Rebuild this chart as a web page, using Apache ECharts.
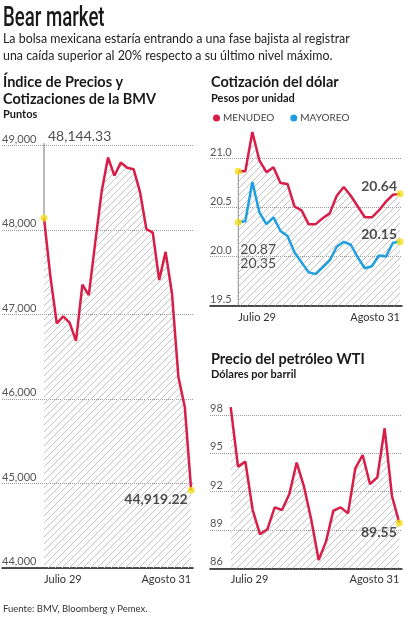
<!DOCTYPE html>
<html><head><meta charset="utf-8">
<script src="https://cdn.jsdelivr.net/npm/echarts@6/dist/echarts.min.js"></script>
<style>html,body{margin:0;padding:0;background:#fff}#c{width:405px;height:620px}</style>
</head><body><div id="c"></div>
<script>
// ---------- data ----------
const dates = ['Julio 29','Agosto 1','Agosto 2','Agosto 3','Agosto 4','Agosto 5','Agosto 8','Agosto 9','Agosto 10','Agosto 11','Agosto 12','Agosto 15','Agosto 16','Agosto 17','Agosto 18','Agosto 19','Agosto 22','Agosto 23','Agosto 24','Agosto 25','Agosto 26','Agosto 29','Agosto 30','Agosto 31'];
const bmv = [48144.33, 47450, 46897, 46980, 46905, 46690, 47356, 47230, 47850, 48454, 48860, 48645, 48800, 48740, 48722, 48454, 48012, 47970, 47410, 47743, 47250, 46262, 45907, 44919.22];
const menudeo = [20.87, 20.87, 21.27, 20.98, 20.86, 20.91, 20.75, 20.74, 20.51, 20.47, 20.33, 20.33, 20.39, 20.44, 20.62, 20.71, 20.62, 20.51, 20.40, 20.40, 20.47, 20.56, 20.63, 20.64];
const mayoreo = [20.35, 20.36, 20.76, 20.45, 20.33, 20.40, 20.26, 20.21, 20.04, 19.94, 19.84, 19.82, 19.89, 19.96, 20.10, 20.15, 20.12, 19.99, 19.88, 19.90, 20.01, 20.00, 20.14, 20.15];
const wti = [98.62, 93.96, 94.35, 90.56, 88.66, 89.05, 90.77, 90.56, 91.82, 94.27, 92.39, 89.78, 86.65, 88.09, 90.51, 90.77, 90.30, 93.83, 94.87, 92.60, 93.12, 96.96, 91.66, 89.55];
const bmvAxis = [44000, 49000, 1000];
const usdAxis = [19.5, 21.0, 0.5];
const wtiAxis = [86, 98, 3];

// ---------- style ----------
const RED = '#d81e48', BLUE = '#1f9fe0', YEL = '#f2de16';
const FF = 'Lato, "Open Sans", sans-serif';
const N = dates.length;

function hatch(){
  const s = 7, c = document.createElement('canvas');
  c.width = s; c.height = s;
  const g = c.getContext('2d');
  g.strokeStyle = '#c2c2c2'; g.lineWidth = 1;
  g.beginPath();
  g.moveTo(-1, s + 1); g.lineTo(s + 1, -1);
  g.moveTo(-1, 1); g.lineTo(1, -1);
  g.moveTo(s - 1, s + 1); g.lineTo(s + 1, s - 1);
  g.stroke();
  return c;
}
const pattern = { image: hatch(), repeat: 'repeat' };

const grid = [], xAxis = [], yAxis = [], series = [];
function panel(box, plotL, plotR, ax, fmt){
  const gi = grid.length;
  const h = box.b - box.t;
  grid.push({left: box.l, top: box.t, width: box.r - box.l, height: h, containLabel:false, outerBoundsMode:'none'});
  grid.push({left: plotL, top: box.t, width: plotR - plotL, height: h, containLabel:false, outerBoundsMode:'none'});
  xAxis.push({gridIndex: gi, type:'value', min:0, max:1,
    axisLine:{show:true, onZero:false, lineStyle:{color:'#1a1a1a', width:1.5}},
    axisTick:{show:false}, axisLabel:{show:false}, splitLine:{show:false}});
  yAxis.push({gridIndex: gi, type:'value', min: ax[0], max: ax[1], interval: ax[2],
    axisLine:{show:false}, axisTick:{show:false},
    axisLabel:{inside:true, margin:0, verticalAlign:'bottom', padding:[0,0,1,0], color:'#555', fontSize:11, fontFamily:FF, formatter: fmt},
    splitLine:{lineStyle:{type:'dotted', color:'#9a9a9a', width:1}}});
  xAxis.push({gridIndex: gi + 1, type:'category', data: dates, boundaryGap:false,
    axisLine:{show:false}, axisTick:{show:false}, splitLine:{show:false},
    axisLabel:{interval: (i) => i === 0 || i === N - 1, alignMinLabel:'left', alignMaxLabel:'right',
      margin:6, color:'#333', fontSize:11, fontFamily:FF, hideOverlap:false}});
  yAxis.push({gridIndex: gi + 1, type:'value', min: ax[0], max: ax[1], show:false});
  return gi + 1;
}
function dots(gi, pts){
  series.push({type:'scatter', xAxisIndex: gi, yAxisIndex: gi, z: 10, symbolSize: 7,
    itemStyle:{color: YEL}, silent:true, data: pts});
}
function leader(gi, y0, y1, color){
  series.push({type:'line', xAxisIndex: gi, yAxisIndex: gi, z: 3, symbol:'none', silent:true, clip:false,
    lineStyle:{color: color, width: 1}, data: [[0, y0], [0, y1]]});
}
function lbl(text, offset, align, bold){
  return {show:true, position:'inside', formatter: text, align: align, verticalAlign:'middle', offset: offset,
    color:'#222', fontSize:14, fontWeight: bold ? 'bold' : 'normal', fontFamily: FF};
}
const fmtN = (v, d) => v.toLocaleString('en-US', {minimumFractionDigits: d, maximumFractionDigits: d});

// BMV panel
let g = panel({l:2, r:193, t:145.7, b:568}, 44, 191.2, bmvAxis, v => fmtN(v, 0));
series.push({type:'line', name:'BMV', xAxisIndex:g, yAxisIndex:g, data: bmv, symbol:'none', clip:false, z: 4,
  lineStyle:{color: RED, width: 2.5}, areaStyle:{color: pattern, opacity: 1, origin:'start'}});
leader(g, bmvAxis[1] + 30, bmv[0], '#777');
dots(g, [
  {value:[0, bmv[0]], label: lbl(fmtN(bmv[0], 2), [4, -81], 'left', false)},
  {value:[N - 1, bmv[N - 1]], label: lbl(fmtN(bmv[N - 1], 2), [-3.5, 9], 'right', true)}
]);

// USD panel
g = panel({l:210, r:402, t:158.5, b:305.5}, 238.3, 400, usdAxis, v => v.toFixed(1));
series.push({type:'line', name:'MENUDEO', xAxisIndex:g, yAxisIndex:g, data: menudeo, symbol:'none', clip:false, z: 4,
  itemStyle:{color: RED}, lineStyle:{color: RED, width: 2.5}, areaStyle:{color: pattern, opacity: 1, origin:'start'}});
series.push({type:'line', name:'MAYOREO', xAxisIndex:g, yAxisIndex:g, data: mayoreo, symbol:'none', clip:false, z: 5,
  itemStyle:{color: BLUE}, lineStyle:{color: BLUE, width: 2.5}});
leader(g, menudeo[0], usdAxis[0], '#888');
dots(g, [
  {value:[0, menudeo[0]], label: lbl(menudeo[0].toFixed(2), [2, 78.6], 'left', false)},
  {value:[0, mayoreo[0]], label: lbl(mayoreo[0].toFixed(2), [2, 41], 'left', false)},
  {value:[N - 1, menudeo[N - 1]], label: lbl(menudeo[N - 1].toFixed(2), [-3, -7.5], 'right', true)},
  {value:[N - 1, mayoreo[N - 1]], label: lbl(mayoreo[N - 1].toFixed(2), [-3, -7.5], 'right', true)}
]);

// WTI panel
g = panel({l:210, r:402, t:415, b:568.3}, 230.7, 399.3, wtiAxis, v => String(v));
series.push({type:'line', name:'WTI', xAxisIndex:g, yAxisIndex:g, data: wti, symbol:'none', clip:false, z: 4,
  lineStyle:{color: RED, width: 2.5}, areaStyle:{color: pattern, opacity: 1, origin:'start'}});
dots(g, [
  {value:[0, wti[0]], label: lbl(wti[0].toFixed(2), [2.5, -7], 'left', false)},
  {value:[N - 1, wti[N - 1]], label: lbl(wti[N - 1].toFixed(2), [-2.5, 10], 'right', true)}
]);

function T(text, x, y, font, fill, extra){
  return Object.assign({type:'text', x: x, y: y, silent:true,
    style:{text: text, font: font, fill: fill || '#1a1a1a', textVerticalAlign:'middle', textAlign:'left'}}, extra || {});
}
const graphic = [
  T('Bear market', 3, 19, '500 27px Roboto, sans-serif', '#1a1a1a', {scaleX: 0.69}),
  T('La bolsa mexicana estaría entrando a una fase bajista al registrar', 3, 39, '12.4px ' + FF, '#222'),
  T('una caída superior al 20% respecto a su último nivel máximo.', 3, 56, '12.4px ' + FF, '#222'),
  T('Índice de Precios y', 3, 82, 'bold 14.5px ' + FF),
  T('Cotizaciones de la BMV', 3, 99, 'bold 14.5px ' + FF),
  T('Puntos', 3, 114, 'bold 11px ' + FF),
  T('Cotización del dólar', 211, 82, 'bold 14.5px ' + FF),
  T('Pesos por unidad', 211, 98.5, 'bold 11px ' + FF),
  T('Precio del petróleo WTI', 211, 359, 'bold 14.5px ' + FF),
  T('Dólares por barril', 211, 374.5, 'bold 11px ' + FF),
  T('Fuente: BMV, Bloomberg y Pemex.', 3, 609, '9.5px ' + FF, '#333')
];

const chart = echarts.init(document.getElementById('c'), null, {renderer:'canvas'});
chart.setOption({
  backgroundColor:'#fff', animation:false,
  legend:{data:['MENUDEO','MAYOREO'], left:208, top:108, icon:'circle', itemWidth:7, itemHeight:7, itemGap:16,
    selectedMode:false, textStyle:{fontSize:10, color:'#444', fontFamily:FF, padding:[0,0,0,-2]}},
  grid, xAxis, yAxis, series, graphic
});
</script></body></html>
